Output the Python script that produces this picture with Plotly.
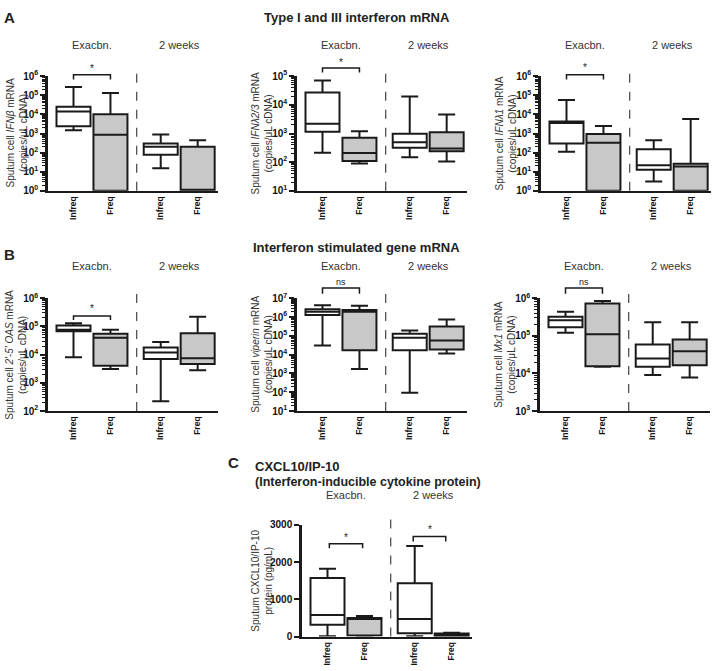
import plotly.graph_objects as go

W, H = 716, 671
FONT = "Liberation Sans, Arial, sans-serif"

# ---------------- data ----------------
categories = ["Infreq", "Freq", "Infreq", "Freq"]
group_labels = ["Exacbn.", "2 weeks"]

# order of every list: [Infreq exacbn, Freq exacbn, Infreq 2 weeks, Freq 2 weeks]
ifnb_low  = [1.5e3, 1, 15, 1]
ifnb_q1   = [2.4e3, 1, 77, 1]
ifnb_med  = [1.4e4, 8.5e2, 200, 1]
ifnb_q3   = [2.5e4, 1.0e4, 300, 200]
ifnb_high = [2.7e5, 1.3e5, 890, 450]

ifnl23_low  = [215, 90, 150, 105]
ifnl23_q1   = [1150, 110, 320, 240]
ifnl23_med  = [2200, 210, 500, 300]
ifnl23_q3   = [2.7e4, 710, 980, 1100]
ifnl23_high = [7.1e4, 1200, 1.95e4, 4.6e3]

ifnl1_low  = [110, 1, 3.1, 1]
ifnl1_q1   = [300, 1, 12.6, 1]
ifnl1_med  = [3.5e3, 330, 22, 19]
ifnl1_q3   = [4.2e3, 950, 150, 26]
ifnl1_high = [5.7e4, 2.5e3, 450, 5.7e3]

oas_low  = [8.1e3, 3.1e3, 2.2e2, 2.8e3]
oas_q1   = [6.8e4, 4.0e3, 7.0e3, 4.7e3]
oas_med  = [7.6e4, 4.0e4, 1.2e4, 7.4e3]
oas_q3   = [1.07e5, 5.5e4, 1.8e4, 5.7e4]
oas_high = [1.3e5, 7.6e4, 2.8e4, 2.2e5]

vip_low  = [3.1e4, 1.7e3, 95, 1.15e4]
vip_q1   = [1.3e6, 1.7e4, 1.7e4, 1.9e4]
vip_med  = [1.9e6, 1.9e6, 7.9e4, 5.6e4]
vip_q3   = [2.6e6, 2.4e6, 1.3e5, 3.1e5]
vip_high = [4.2e6, 4.0e6, 1.9e5, 7.4e5]

mx1_low  = [1.2e5, 1.5e4, 9.1e3, 7.8e3]
mx1_q1   = [1.7e5, 1.55e4, 1.5e4, 1.65e4]
mx1_med  = [2.6e5, 1.1e5, 2.5e4, 3.9e4]
mx1_q3   = [3.2e5, 7.2e5, 5.9e4, 8.0e4]
mx1_high = [4.4e5, 8.5e5, 2.3e5, 2.3e5]

cx_low  = [10, 10, 10, 0]
cx_q1   = [315, 30, 88, 5]
cx_med  = [577, 480, 472, 40]
cx_q3   = [1570, 495, 1433, 80]
cx_high = [1820, 550, 2427, 100]

cx_ticks = [0, 1000, 2000, 3000]

# ---------------- layout constants ----------------
cat_pos = [0.69, 1.69, 3.05, 4.05]
X_RANGE = [0, 4.6]
AX_LEN = 170
DIV_X = 2.4
BOX_W = 0.92
LINE = "#1a1a1a"
GRAY_FILL = "#c8c8c8"
TXT = "#333333"

panels = [
    dict(stats=(ifnb_low, ifnb_q1, ifnb_med, ifnb_q3, ifnb_high), log=(0, 6),
         ytitle="Sputum cell <i>IFNβ</i> mRNA<br>(copies/μL cDNA)", tgap=31,
         x0=48, top=70.5, bot=187.5, grp_y=39,
         br=[(0.69, 1.69, 1.013, 0.97, 1.07, "*")]),
    dict(stats=(ifnl23_low, ifnl23_q1, ifnl23_med, ifnl23_q3, ifnl23_high), log=(1, 5),
         ytitle="Sputum cell <i>IFNλ2/3</i> mRNA<br>(copies/μL cDNA)", tgap=35,
         x0=297, top=70.5, bot=187.5, grp_y=39,
         br=[(0.69, 1.69, 1.07, 1.032, 1.12, "*")]),
    dict(stats=(ifnl1_low, ifnl1_q1, ifnl1_med, ifnl1_q3, ifnl1_high), log=(0, 6),
         ytitle="Sputum cell <i>IFNλ1</i> mRNA<br>(copies/μL cDNA)", tgap=35,
         x0=541, top=70.5, bot=187.5, grp_y=39,
         br=[(0.69, 1.69, 1.013, 0.97, 1.075, "*")]),
    dict(stats=(oas_low, oas_q1, oas_med, oas_q3, oas_high), log=(2, 6),
         ytitle="Sputum cell <i>2'-5' OAS</i> mRNA<br>(copies/μL cDNA)", tgap=32,
         x0=48, top=297, bot=412, grp_y=264,
         br=[(0.69, 1.69, 0.843, 0.806, 0.91, "*")]),
    dict(stats=(vip_low, vip_q1, vip_med, vip_q3, vip_high), log=(1, 7),
         ytitle="Sputum cell <i>viperin</i> mRNA<br>(copies/μL cDNA)", tgap=35,
         x0=297, top=297, bot=412, grp_y=264,
         br=[(0.69, 1.69, 1.09, 1.04, 1.14, "ns")]),
    dict(stats=(mx1_low, mx1_q1, mx1_med, mx1_q3, mx1_high), log=(3, 6),
         ytitle="Sputum cell <i>Mx1</i> mRNA<br>(copies/μL cDNA)", tgap=35,
         x0=540, top=297, bot=412, grp_y=264,
         br=[(0.69, 1.69, 1.09, 1.04, 1.14, "ns")]),
    dict(stats=(cx_low, cx_q1, cx_med, cx_q3, cx_high), log=None,
         ytitle="Sputum CXCL10/IP-10<br>protein (pg/mL)", tgap=40,
         x0=302, top=528, bot=642, grp_y=498,
         br=[(0.74, 1.64, 0.83, 0.79, 0.89, "*"),
             (3.01, 3.89, 0.895, 0.85, 0.955, "*")]),
]

fig = go.Figure()
shapes = []
annotations = []

for i, p in enumerate(panels, start=1):
    sfx = "" if i == 1 else str(i)
    xa, ya = f"x{sfx}", f"y{sfx}"
    low, q1, med, q3, high = p["stats"]
    for idxs, fill in (([0, 2], "white"), ([1, 3], GRAY_FILL)):
        fig.add_trace(go.Box(
            x=[cat_pos[k] for k in idxs],
            lowerfence=[low[k] for k in idxs],
            q1=[q1[k] for k in idxs],
            median=[med[k] for k in idxs],
            q3=[q3[k] for k in idxs],
            upperfence=[high[k] for k in idxs],
            fillcolor=fill, line=dict(color=LINE, width=2),
            width=BOX_W, whiskerwidth=0.5, boxpoints=False,
            showlegend=False, hoverinfo="skip",
            xaxis=xa, yaxis=ya))

    xdom = [p["x0"] / W, (p["x0"] + AX_LEN) / W]
    ydom = [1 - p["bot"] / H, 1 - p["top"] / H]
    fig.layout[f"xaxis{sfx}"] = dict(
        domain=xdom, range=X_RANGE, anchor=ya, showline=True, linewidth=2,
        linecolor=LINE, showgrid=False, zeroline=False, ticks="",
        tickmode="array", tickvals=cat_pos,
        ticktext=[f"<b>{c}</b>" for c in categories], tickangle=-90,
        tickfont=dict(family=FONT, size=8.5, color="#111"), fixedrange=True)

    if p["log"]:
        lo, hi = p["log"]
        yax = dict(
            type="log", range=[lo, hi], tickmode="array",
            tickvals=[10 ** e for e in range(lo, hi + 1)],
            ticktext=[f"<b>10<sup>{e}</sup></b>" for e in range(lo, hi + 1)],
            minor=dict(tickmode="array",
                       tickvals=[k * 10 ** e for e in range(lo, hi) for k in range(2, 10)],
                       ticks="outside", ticklen=3, tickwidth=1, tickcolor=LINE, showgrid=False))
    else:
        yax = dict(range=[0, 3000], tickmode="array", tickvals=cx_ticks,
                   ticktext=[f"<b>{t}</b>" for t in cx_ticks])
    yax.update(domain=ydom, anchor=xa, showline=True, linewidth=2.5, linecolor=LINE,
               ticks="outside", ticklen=5, tickwidth=1.5, tickcolor=LINE,
               showgrid=False, zeroline=False,
               tickfont=dict(family=FONT, size=10, color="#111"), fixedrange=True)
    fig.layout[f"yaxis{sfx}"] = yax

    span = p["bot"] - p["top"]
    shapes.append(dict(type="line", xref=xa, yref=f"{ya} domain", x0=DIV_X, x1=DIV_X,
                       y0=0, y1=1 + 10 / span,
                       line=dict(color="#444", width=1.2, dash="dash")))
    for (bx0, bx1, by, bend, sy, lab) in p["br"]:
        shapes.append(dict(type="path", xref=xa, yref=f"{ya} domain",
                           path=f"M {bx0},{bend} L {bx0},{by} L {bx1},{by} L {bx1},{bend}",
                           line=dict(color=LINE, width=1.5)))
        annotations.append(dict(text=lab, xref=xa, yref=f"{ya} domain",
                                x=(bx0 + bx1) / 2, y=sy, showarrow=False,
                                xanchor="center", yanchor="middle",
                                font=dict(family=FONT, size=10 if lab == "*" else 9, color="#222")))
    for gi, g in enumerate(group_labels):
        annotations.append(dict(text=g, xref=xa, yref="paper",
                                x=(cat_pos[2 * gi] + cat_pos[2 * gi + 1]) / 2,
                                y=1 - p["grp_y"] / H, showarrow=False,
                                xanchor="center", yanchor="middle",
                                font=dict(family=FONT, size=11, color=TXT)))
    annotations.append(dict(text=p["ytitle"], xref="paper", yref="paper",
                            x=(p["x0"] - p["tgap"]) / W, y=1 - (p["top"] + p["bot"]) / 2 / H,
                            xanchor="center", yanchor="middle",
                            textangle=-90, showarrow=False, align="center",
                            font=dict(family=FONT, size=10, color=TXT)))

def head(text, x, y, size, anchor="center"):
    annotations.append(dict(text=text, xref="paper", yref="paper", x=x / W, y=1 - y / H,
                            xanchor=anchor, yanchor="middle", showarrow=False, align="left",
                            font=dict(family=FONT, size=size, color="#222")))

head("<b>A</b>", 2, 11, 15, "left")
head("<b>Type I and III interferon mRNA</b>", 357, 11, 13)
head("<b>B</b>", 2, 252, 15, "left")
head("<b>Interferon stimulated gene mRNA</b>", 356, 245, 13)
head("<b>C</b>", 226, 464, 15, "left")
head("<b>CXCL10/IP-10</b>", 253, 469, 13, "left")
head("<b>(Interferon-inducible cytokine protein)</b>", 253, 484, 12.5, "left")

fig.update_layout(width=W, height=H, margin=dict(l=0, r=0, t=0, b=0),
                  paper_bgcolor="white", plot_bgcolor="white",
                  shapes=shapes, annotations=annotations, boxmode="overlay",
                  font=dict(family=FONT))
fig.write_html("out.html", config={"displayModeBar": False},
               post_script="document.body.style.margin='0px';document.body.style.overflow='hidden';")
